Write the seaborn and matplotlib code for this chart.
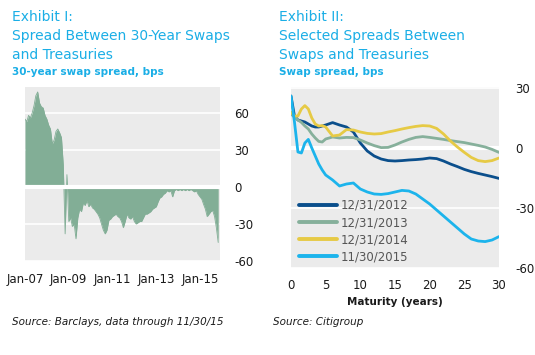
import pandas as pd
import numpy as np
import seaborn as sns
import matplotlib.pyplot as plt
import matplotlib.dates as mdates

# Exhibit I: 30-year swap spread, monthly, Jan 2007 - Nov 2015 (bps)
spread_start = "2007-01-01"
spread_30y = [55, 53, 58, 56, 60, 66, 74, 77, 68, 65, 64, 58,
              55, 50, 47, 35, 38, 45, 47, 44, 40, 18, -38, 10,
              -28, -25, -32, -30, -42, -25, -18, -20, -13, -15, -11, -16,
              -14, -17, -18, -20, -22, -25, -30, -35, -38, -35, -27, -26,
              -24, -23, -22, -24, -25, -28, -33, -28, -22, -25, -26, -24,
              -28, -30, -29, -28, -28, -25, -22, -22, -21, -20, -18, -17,
              -16, -12, -9, -8, -6, -5, -3, -4, -3, -8, -3, -2,
              -3, -2, -3, -2, -3, -2, -3, -2, -3, -4, -3, -6,
              -8, -10, -14, -18, -24, -22, -20, -19, -24, -33, -45]
left_ticks = ["2007-01-01", "2009-01-01", "2011-01-01", "2013-01-01", "2015-01-01"]

# Exhibit II: swap spread curves by maturity (bps)
maturity = [0, 0.5, 1, 1.5, 2, 2.5, 3, 3.5, 4, 4.5, 5, 6, 7, 8, 9, 10, 11, 12,
            13, 14, 15, 16, 17, 18, 19, 20, 21, 22, 23, 24, 25, 26, 27, 28, 29, 30]
curve_2012 = [26, 16, 14, 13.5, 13, 12, 11, 10.5, 10.5, 11, 11.5, 12.7, 11.5, 10.5, 8, 2.5, -1.5, -4,
              -5.5, -6.3, -6.5, -6.3, -6, -5.8, -5.5, -5, -5.3, -6.5, -8, -9.3, -10.7, -11.8, -12.7, -13.5, -14.3, -15.2]
curve_2013 = [17, 15.5, 14, 12.8, 11, 9.5, 7, 5, 3.3, 3, 4.5, 5.5, 5, 5.3, 5.2, 4, 2.5, 1.2,
              0.2, 0.3, 1.5, 3, 4.3, 5.3, 5.7, 5.3, 4.8, 4.3, 3.7, 3.2, 2.7, 2, 1.3, 0.5, -0.7, -2.2]
curve_2014 = [18, 16, 16, 19.5, 21.2, 19.5, 15, 12, 11, 11.2, 10.5, 6, 6.5, 9.2, 9, 8, 7.3, 7,
              7.2, 8, 8.7, 9.5, 10.2, 10.8, 11.2, 11, 9.8, 7, 3.5, 0.5, -2.2, -4.7, -6.3, -6.8, -6.3, -5]
curve_2015 = [26, 13, -2, -2.5, 2.5, 4.3, 0, -4, -8, -11, -13.5, -16, -19, -18, -17.5, -20.5, -22, -23,
              -23.2, -22.8, -22, -21.2, -21.5, -23, -25.5, -28, -31, -34, -37, -40, -43, -45.5, -46.5, -46.8, -46, -44.3]
curve_labels = ["12/31/2012", "12/31/2013", "12/31/2014", "11/30/2015"]
curve_colors = ["#0b4f8c", "#86b09b", "#e6ca45", "#1cb4ec"]

title_blue = "#1aaee6"
panel_bg = "#ebebeb"
fill_green = "#82ae96"

sns.set_style("white")
plt.rcParams["font.family"] = ["DejaVu Sans"]
plt.rcParams["axes.unicode_minus"] = False

W, H = 535, 355
fig = plt.figure(figsize=(W / 100, H / 100), dpi=100)


def px(x, y):
    return x / W, 1 - y / H


# ---- left panel ----
ax1 = fig.add_axes([25 / W, 1 - 261 / H, 195 / W, 174 / H])
ax1.set_facecolor(panel_bg)
dates = pd.date_range(spread_start, periods=len(spread_30y), freq="MS")
df1 = pd.DataFrame({"date": dates, "spread": spread_30y})
sns.lineplot(data=df1, x="date", y="spread", ax=ax1, color=fill_green, lw=0.6, zorder=2)
ax1.fill_between(df1["date"], 0, df1["spread"], color=fill_green, lw=0, zorder=2)
ax1.set_ylim(-60, 81)
ax1.set_xlim(pd.Timestamp("2007-01-01"), pd.Timestamp("2015-12-01"))
ax1.set_yticks([-60, -30, 0, 30, 60])
ax1.set_xticks(pd.to_datetime(left_ticks))
ax1.xaxis.set_major_formatter(mdates.DateFormatter("%b-%y"))
ax1.grid(axis="y", color="white", lw=1.2, zorder=1)
ax1.set_axisbelow(True)
ax1.axhline(0, color="white", lw=3, zorder=3)

# ---- right panel ----
ax2 = fig.add_axes([291 / W, 1 - 268 / H, 208 / W, 181 / H])
ax2.set_facecolor(panel_bg)
df2 = pd.DataFrame({"maturity": maturity * 4,
                    "spread": curve_2012 + curve_2013 + curve_2014 + curve_2015,
                    "date": sum([[lab] * len(maturity) for lab in curve_labels], [])})
ax2.axhline(0, color="white", lw=3, zorder=1)
sns.lineplot(data=df2, x="maturity", y="spread", hue="date", palette=curve_colors,
             ax=ax2, lw=2.0, zorder=3)
ax2.set_xlim(0, 30)
ax2.set_ylim(-60, 30.5)
ax2.set_xticks([0, 5, 10, 15, 20, 25, 30])
ax2.set_yticks([-60, -30, 0, 30])
ax2.grid(axis="y", color="white", lw=1.2, zorder=0)
ax2.set_axisbelow(True)
ax2.legend(loc="lower left", frameon=False, fontsize=8.5, handlelength=3.2,
           handletextpad=0.3, labelspacing=0.35, labelcolor="#555555",
           borderaxespad=0.3, bbox_to_anchor=(0.0, -0.02))
for lh in ax2.get_legend().get_lines():
    lh.set_linewidth(2.8)

for ax in (ax1, ax2):
    ax.set_xlabel("")
    ax.set_ylabel("")
    sns.despine(ax=ax, left=True, bottom=True)
    ax.yaxis.tick_right()
    ax.tick_params(length=0, labelsize=8.5, colors="#1a1a1a")
ax1.tick_params(axis="y", pad=10)
ax1.tick_params(axis="x", pad=9)
ax2.tick_params(axis="y", pad=12)
ax2.tick_params(axis="x", pad=8)

fig.text(*px(395, 305), "Maturity (years)", ha="center", va="baseline",
         fontsize=7.5, fontweight="bold", color="#1a1a1a")

# ---- titles ----
left_title = ["Exhibit I:", "Spread Between 30-Year Swaps", "and Treasuries"]
right_title = ["Exhibit II:", "Selected Spreads Between", "Swaps and Treasuries"]
for x0, lines, sub in ((12, left_title, "30-year swap spread, bps"),
                       (279, right_title, "Swap spread, bps")):
    for i, line in enumerate(lines):
        fig.text(*px(x0, 21 + 19 * i), line, ha="left", va="baseline",
                 fontsize=10, color=title_blue)
    fig.text(*px(x0, 75), sub, ha="left", va="baseline", fontsize=7.5,
             fontweight="bold", color=title_blue)

fig.text(*px(12, 325), "Source: Barclays, data through 11/30/15", ha="left",
         va="baseline", fontsize=7.5, style="italic", color="#1a1a1a")
fig.text(*px(273, 325), "Source: Citigroup", ha="left", va="baseline",
         fontsize=7.5, style="italic", color="#1a1a1a")

fig.savefig("out.png", dpi=100)
